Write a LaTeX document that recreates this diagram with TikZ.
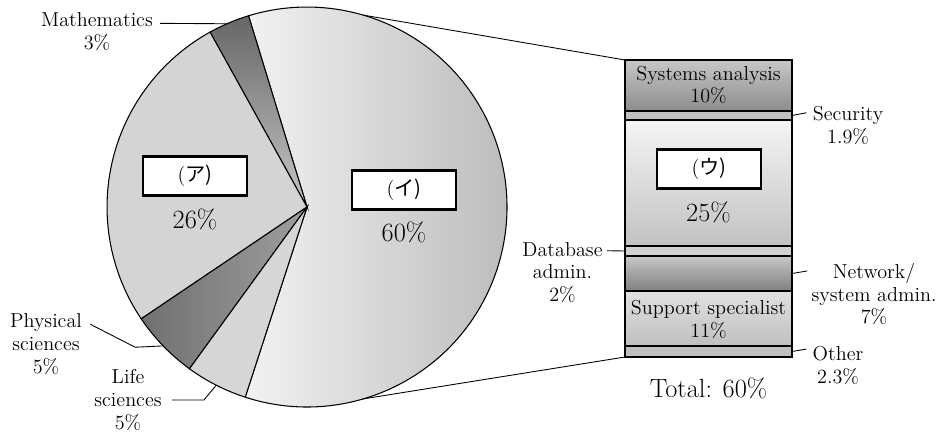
\documentclass[tikz,border=0pt]{standalone}
\usepackage{fontspec}
\newfontfamily\jp{Noto Sans CJK JP}
\usetikzlibrary{calc}

\tikzset{
	rim/.style={line width=0.6pt},
	lead/.style={line width=0.5pt},
	lbl/.style={align=center, inner sep=0pt, font=\fontsize{11.5}{13}\selectfont},
	big/.style={inner sep=0pt, font=\fontsize{15}{18}\selectfont},
	namebox/.style={draw, line width=1.5pt, fill=white, minimum width=2.08cm, minimum height=0.79cm, inner sep=0pt, font=\fontsize{11.5}{13}\selectfont}
}

\begin{document}
\begin{tikzpicture}[x=0.02cm, y=0.02cm]
		\useasboundingbox (0,0) rectangle (945,433);
		\coordinate (c) at (307,226);
		\shadedraw[rim, left color=black!5, right color=black!28] (c) -- ++(252:4cm) arc[start angle=252, end angle=467, radius=4cm] -- cycle;
		\shadedraw[rim, top color=black!60, bottom color=black!22] (c) -- ++(107:4cm) arc[start angle=107, end angle=119, radius=4cm] -- cycle;
		\filldraw[rim, fill=black!17] (c) -- ++(119:4cm) arc[start angle=119, end angle=214, radius=4cm] -- cycle;
		\shadedraw[rim, left color=black!56, right color=black!38] (c) -- ++(214:4cm) arc[start angle=214, end angle=234, radius=4cm] -- cycle;
		\filldraw[rim, fill=black!16] (c) -- ++(234:4cm) arc[start angle=234, end angle=252, radius=4cm] -- cycle;
		\coordinate (mathpt) at ($(c)+(113.6:4cm)$);
		\coordinate (physpt) at ($(c)+(224:4cm)$);
		\coordinate (lifept) at ($(c)+(243:4cm)$);
		\coordinate (toppt) at ($(c)+(73.7:4cm)$);
		\coordinate (botpt) at ($(c)+(-73.7:4cm)$);

		\node[namebox] (boxa) at (195,257) {(\jp{ア})};
		\node[big] (pcta) at (195,214) {26\%};
		\node[namebox] (boxi) at (404,243) {(\jp{イ})};
		\node[big] (pcti) at (404,200.5) {60\%};

		\node[lbl] (math) at (97,401.3) {Mathematics\\3\%};
		\draw[lead] ($(math.north east)+(7,-11)$) -- (mathpt);
		\node[lbl] (phys) at (46,89) {Physical\\sciences\\5\%};
		\draw[lead] ($(phys.north east)+(8,-11)$) -- ++(45,-23) -- (physpt);
		\node[lbl] (life) at (128,33) {Life\\sciences\\5\%};
		\draw[lead] ($(life.east)+(10,0)$) -- ++(32,0) -- (lifept);

		\shadedraw[rim, top color=black!22, bottom color=black!45] (625,373) rectangle (792,322);
		\filldraw[rim, fill=black!25] (625,322) rectangle (792,313);
		\shadedraw[rim, top color=black!4, bottom color=black!24] (625,313) rectangle (792,187);
		\filldraw[rim, fill=black!18] (625,187) rectangle (792,177);
		\shadedraw[rim, top color=black!22, bottom color=black!50] (625,177) rectangle (792,142);
		\shadedraw[rim, top color=black!12, bottom color=black!25] (625,142) rectangle (792,87);
		\filldraw[rim, fill=black!25] (625,87) rectangle (792,76);
		\coordinate (bartl) at (625,373);
		\coordinate (barbl) at (625,76);
		\coordinate (secR) at (792,317.5);
		\coordinate (dbL) at (625,182);
		\coordinate (netR) at (792,159.5);
		\coordinate (othR) at (792,81.5);
		\draw[lead] (toppt) -- (bartl);
		\draw[lead] (botpt) -- (barbl);

		\node[lbl] (satxt) at (708.5,348) {Systems analysis\\10\%};
		\node[namebox] (boxu) at (709,264) {(\jp{ウ})};
		\node[big] (pctu) at (708.5,220.5) {25\%};
		\node[lbl] (suptxt) at (708.5,113.5) {Support specialist\\11\%};
		\node[big] (total) at (708.5,44.5) {Total: 60\%};

		\node[lbl] (db) at (562.5,160.5) {Database\\admin.\\2\%};
		\draw[lead] ($(db.north east)+(4,-9)$) -- (dbL);
		\node[lbl] (sec) at (848,307.5) {Security\\1.9\%};
		\draw[lead] (secR) -- ($(sec.north west)+(-6,-6.7)$);
		\node[lbl] (net) at (874,139) {Network/\\system admin.\\7\%};
		\draw[lead] (netR) -- ($(net.north west)+(-4,-8.3)$);
		\node[lbl] (oth) at (838,67.5) {Other\\2.3\%};
		\draw[lead] (othR) -- ($(oth.north west)+(-6,-3)$);
	\end{tikzpicture}
\end{document}
